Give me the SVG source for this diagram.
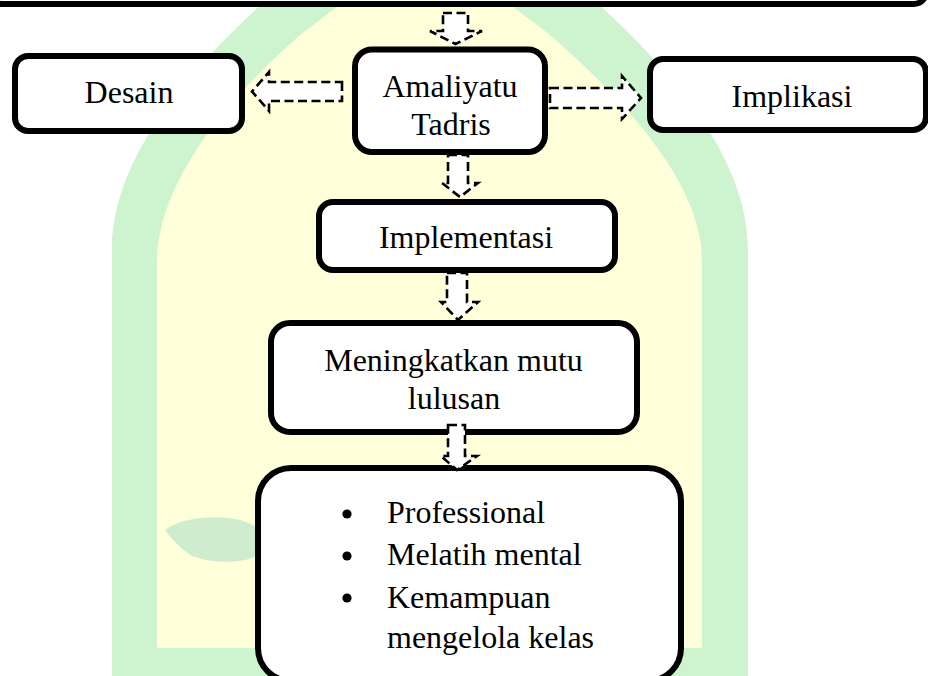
<svg xmlns="http://www.w3.org/2000/svg" width="928" height="676" viewBox="0 0 928 676">
  <style>
    .box { fill: #ffffff; stroke: #000000; stroke-width: 6; }
    .arrow { fill: #ffffff; stroke: #000000; stroke-width: 2.6; stroke-dasharray: 9 4.5; stroke-linejoin: miter; }
    .t { font-family: "Liberation Serif", "Times New Roman", serif; font-size: 32px; fill: #000000; }
    .c { text-anchor: middle; }
  </style>
  <rect x="0" y="0" width="928" height="676" fill="#ffffff"/>
  <g id="watermark">
    <path d="M112,676 L112,250 C112,170 170,90 250,15 L430,-160 L610,15 C690,90 748,170 748,250 L748,676 Z" fill="#cef4cf"/>
    <path d="M157,648 L157,262 C157,190 215,110 300,35 L425,-60 L550,35 C630,105 702,185 702,262 L702,648 Z" fill="#ffffda"/>
    <path d="M165,530 C180,518 215,514 240,520 C262,526 272,540 260,554 C245,564 212,564 192,556 C182,550 172,540 165,530 Z" fill="#d0ecce"/>
  </g>
  <g id="node-top">
    <rect class="box" x="-10" y="-60" width="936" height="64" rx="12"/>
  </g>
  <g id="node-desain">
    <rect class="box" x="15" y="56" width="227" height="75" rx="13"/>
    <text class="t c" x="129" y="103">Desain</text>
  </g>
  <g id="node-amaliyatu">
    <rect class="box" x="355" y="49.5" width="190" height="102.5" rx="17"/>
    <text class="t c" x="450" y="97">Amaliyatu</text>
    <text class="t c" x="451" y="135">Tadris</text>
  </g>
  <g id="node-implikasi">
    <rect class="box" x="650" y="59" width="276" height="71" rx="13"/>
    <text class="t c" x="792" y="107">Implikasi</text>
  </g>
  <g id="node-implementasi">
    <rect class="box" x="319" y="202" width="296" height="68" rx="14"/>
    <text class="t c" x="466" y="248">Implementasi</text>
  </g>
  <g id="node-meningkatkan">
    <rect class="box" x="271" y="323" width="366" height="109" rx="19"/>
    <text class="t c" x="453.5" y="371">Meningkatkan mutu</text>
    <text class="t c" x="454" y="409">lulusan</text>
  </g>
  <g id="node-hasil">
    <rect class="box" x="258" y="468" width="423" height="213" rx="33"/>
    <circle cx="347" cy="514" r="4.6" fill="#000000"/>
    <circle cx="347" cy="556" r="4.6" fill="#000000"/>
    <circle cx="347" cy="598" r="4.6" fill="#000000"/>
    <text class="t" x="387" y="523">Professional</text>
    <text class="t" x="387" y="565">Melatih mental</text>
    <text class="t" x="387" y="608">Kemampuan</text>
    <text class="t" x="387" y="648">mengelola kelas</text>
  </g>
  <g id="connectors">
    <path class="arrow" d="M443,13 L468,13 L468,31 L482,31 L455.5,44 L430,31 L443,31 Z"/>
    <path class="arrow" d="M342,82 L342,101 L269,101 L269,111 L252,91.5 L269,72 L269,82 Z"/>
    <path class="arrow" d="M550,88 L622,88 L622,76 L641,98 L622,119 L622,108 L550,108 Z"/>
    <path class="arrow" d="M448,155 L468,155 L468,183 L478,183 L460,197 L442,183 L448,183 Z"/>
    <path class="arrow" d="M447,273 L467,273 L467,302 L478,302 L458,320 L441,302 L447,302 Z"/>
    <path class="arrow" d="M448,425 L465,425 L465,456 L477,456 L457,470 L441,456 L448,456 Z"/>
  </g>
</svg>
